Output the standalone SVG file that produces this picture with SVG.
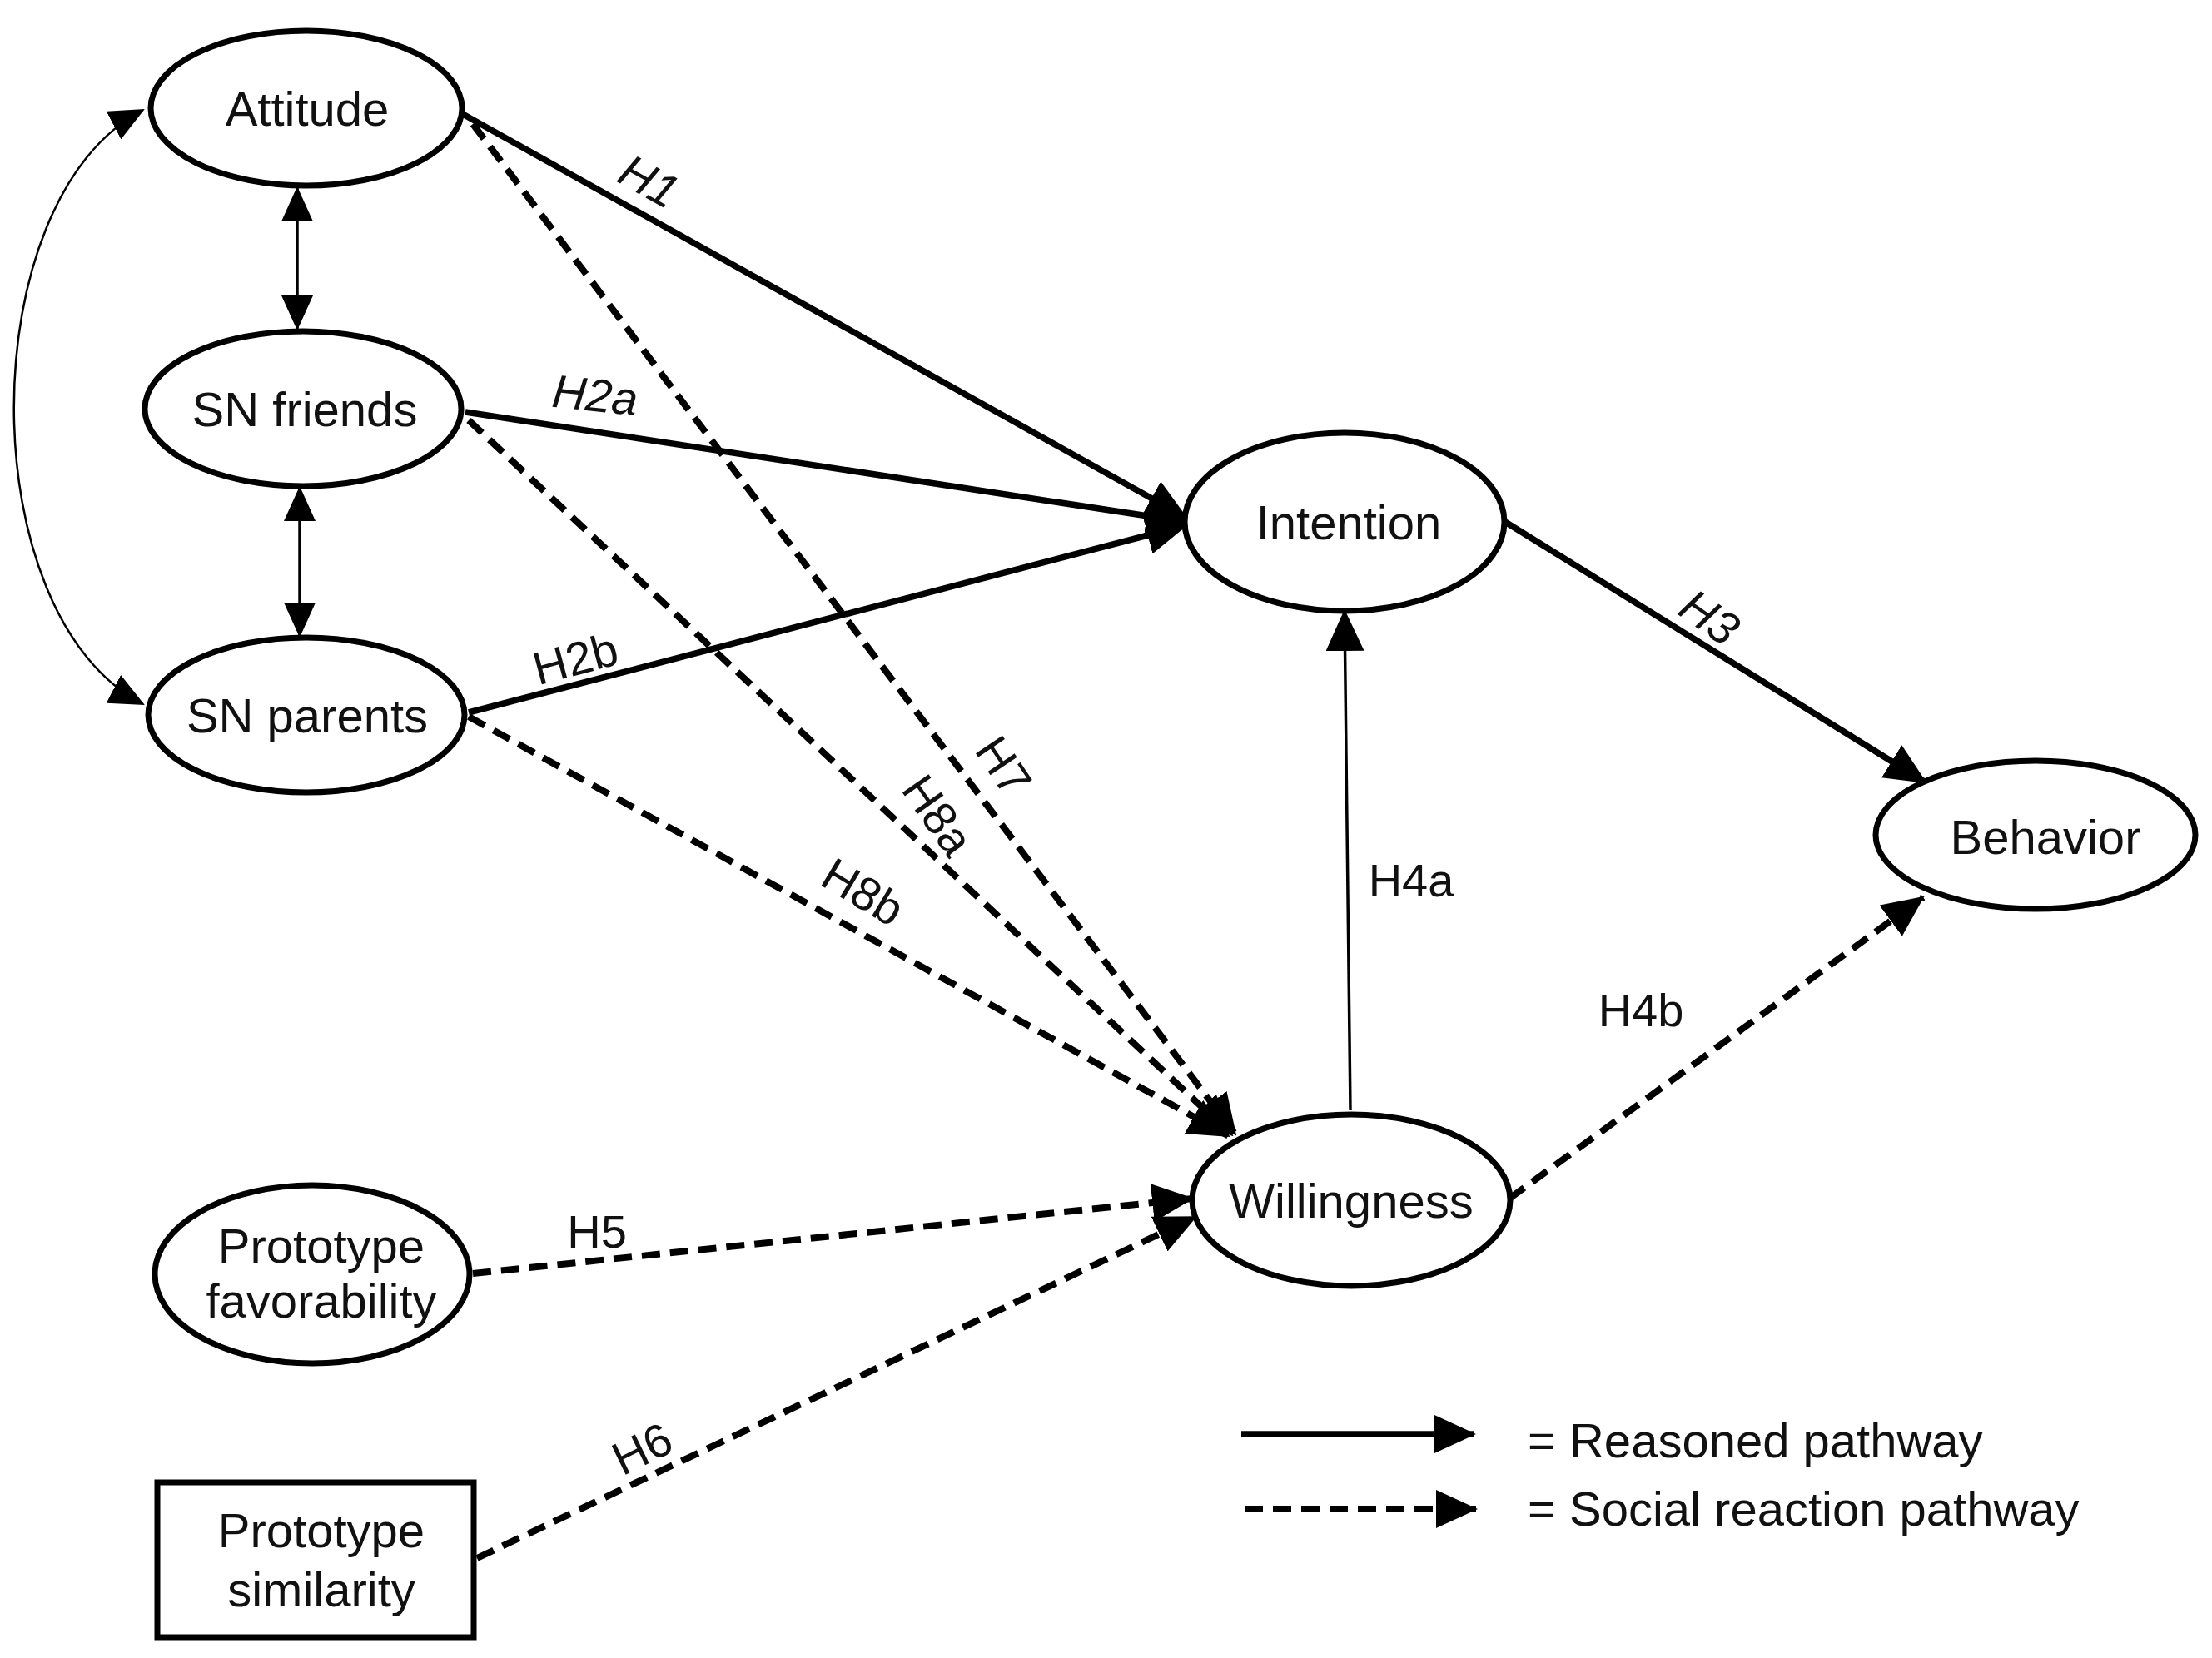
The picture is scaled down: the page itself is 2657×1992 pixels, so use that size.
<svg xmlns="http://www.w3.org/2000/svg" width="2657" height="1992" viewBox="0 0 2657 1992">
<style>
.node{fill:#fff;stroke:#000;stroke-width:7}
.t{font-family:"Liberation Sans",Arial,sans-serif;font-size:58px;fill:#111;text-anchor:middle}
.lb{font-family:"Liberation Sans",Arial,sans-serif;font-size:56px;fill:#111;text-anchor:middle}
.it{font-style:italic}
.solid{fill:none;stroke:#000;stroke-width:7.5}
.dash{fill:none;stroke:#000;stroke-width:8;stroke-dasharray:22 12}
.thin{fill:none;stroke:#000;stroke-width:3.5}
.curve{fill:none;stroke:#000;stroke-width:2.5}
</style>
<defs>
<marker id="ah" markerUnits="userSpaceOnUse" viewBox="0 0 50 46" markerWidth="50" markerHeight="46" refX="48" refY="23" orient="auto"><path d="M0,0 L50,23 L0,46 z" fill="#000"/></marker>
<marker id="ah2" markerUnits="userSpaceOnUse" viewBox="0 0 42 38" markerWidth="42" markerHeight="38" refX="40" refY="19" orient="auto-start-reverse"><path d="M0,0 L42,19 L0,38 z" fill="#000"/></marker>
</defs>
<rect width="2657" height="1992" fill="#fff"/>
<g id="connectors">
<path class="curve" d="M172,132 C-35,240 -35,740 172,846" marker-start="url(#ah2)" marker-end="url(#ah2)"/>
<line class="thin" x1="357" y1="226" x2="357" y2="395" marker-start="url(#ah2)" marker-end="url(#ah2)"/>
<line class="thin" x1="360" y1="586" x2="360" y2="764" marker-start="url(#ah2)" marker-end="url(#ah2)"/>
<line class="solid" x1="554" y1="136" x2="1425" y2="622" marker-end="url(#ah)"/>
<line class="solid" x1="559" y1="495" x2="1425" y2="627" marker-end="url(#ah)"/>
<line class="solid" x1="563" y1="856" x2="1425" y2="631" marker-end="url(#ah)"/>
<line class="solid" x1="1808" y1="627" x2="2313" y2="940" marker-end="url(#ah)"/>
<line class="thin" x1="1622" y1="1334" x2="1615" y2="734" marker-end="url(#ah)"/>
<line class="dash" x1="1813" y1="1440" x2="2310" y2="1078" marker-end="url(#ah)"/>
<line class="dash" x1="568" y1="149" x2="1484" y2="1363" marker-end="url(#ah)"/>
<line class="dash" x1="563" y1="505" x2="1480" y2="1364" marker-end="url(#ah)"/>
<line class="dash" x1="563" y1="861" x2="1476" y2="1365" marker-end="url(#ah)"/>
<line class="dash" x1="568" y1="1530" x2="1432" y2="1440" marker-end="url(#ah)"/>
<line class="dash" x1="573" y1="1872" x2="1436" y2="1462" marker-end="url(#ah)"/>
</g>
<g id="labels">
<text class="lb it" transform="translate(780,217) rotate(29)" x="0" y="20">H1</text>
<text class="lb it" transform="translate(715,474) rotate(6)" x="0" y="20">H2a</text>
<text class="lb" transform="translate(691,791) rotate(-15)" x="0" y="20">H2b</text>
<text class="lb it" transform="translate(2054,741) rotate(35)" x="0" y="20">H3</text>
<text class="lb" x="1695" y="1077">H4a</text>
<text class="lb" x="1971" y="1233">H4b</text>
<text class="lb" x="717" y="1499">H5</text>
<text class="lb" transform="translate(771,1740) rotate(-26)" x="0" y="20">H6</text>
<text class="lb" transform="translate(1206,920) rotate(56)" x="0" y="20">H7</text>
<text class="lb" transform="translate(1127,979) rotate(55)" x="0" y="20">H8a</text>
<text class="lb" transform="translate(1037,1071) rotate(31)" x="0" y="20">H8b</text>
</g>
<g id="attitude"><ellipse class="node" cx="368" cy="130" rx="187" ry="93"/><text class="t" x="369" y="151">Attitude</text></g>
<g id="sn-friends"><ellipse class="node" cx="364" cy="491" rx="190" ry="93"/><text class="t" x="366" y="512">SN friends</text></g>
<g id="sn-parents"><ellipse class="node" cx="368" cy="859" rx="190" ry="93"/><text class="t" x="369" y="880">SN parents</text></g>
<g id="intention"><ellipse class="node" cx="1615" cy="627" rx="192" ry="107"/><text class="t" x="1620" y="648">Intention</text></g>
<g id="behavior"><ellipse class="node" cx="2445" cy="1003" rx="192" ry="89"/><text class="t" x="2457" y="1026">Behavior</text></g>
<g id="willingness"><ellipse class="node" cx="1623" cy="1442" rx="191" ry="103"/><text class="t" x="1623" y="1463">Willingness</text></g>
<g id="prototype-favorability"><ellipse class="node" cx="375" cy="1531" rx="189" ry="107"/><text class="t" x="386" y="1517">Prototype</text><text class="t" x="386" y="1583">favorability</text></g>
<g id="prototype-similarity"><rect class="node" x="189" y="1781" width="380" height="186"/><text class="t" x="386" y="1859">Prototype</text><text class="t" x="386" y="1930">similarity</text></g>
<g id="legend">
<line class="solid" x1="1491" y1="1723" x2="1771" y2="1723" marker-end="url(#ah)"/>
<line class="dash" x1="1495" y1="1813" x2="1773" y2="1813" marker-end="url(#ah)"/>
<text class="t" style="text-anchor:start" x="1835" y="1751">= Reasoned pathway</text>
<text class="t" style="text-anchor:start" x="1835" y="1833">= Social reaction pathway</text>
</g>
</svg>
